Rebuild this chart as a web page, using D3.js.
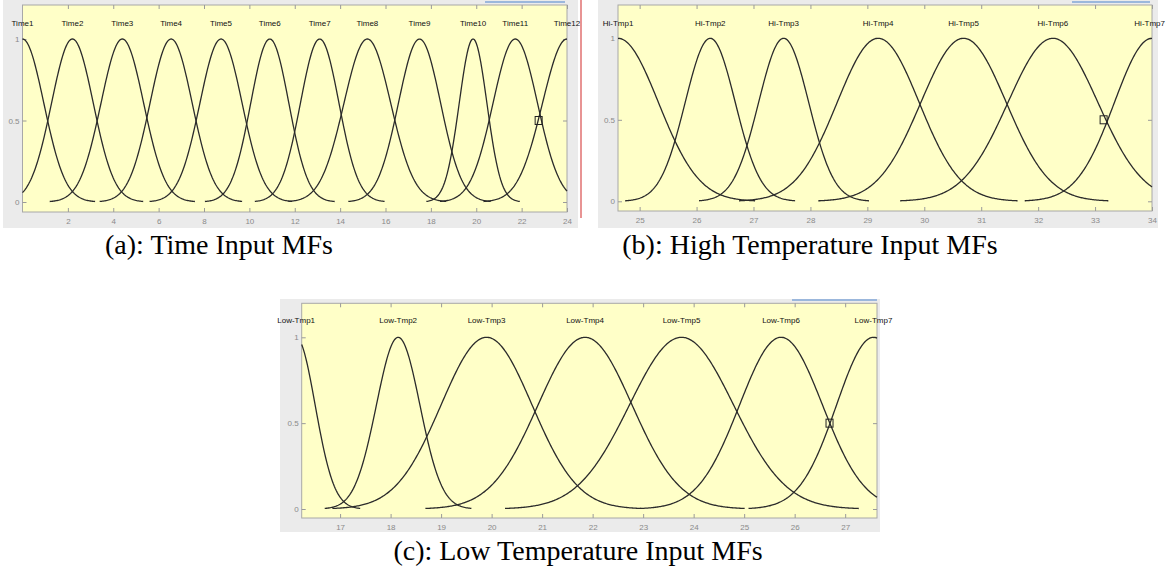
<!DOCTYPE html>
<html>
<head>
<meta charset="utf-8">
<script src="https://cdn.jsdelivr.net/npm/d3@7"></script>
<style>
  body { margin: 0; background: #fff; }
  svg { display: block; }
</style>
</head>
<body>
<div id="chart"></div>
<script>
// membership function parameters (gaussian: centre, sigma)
const timeLabels = ["Time1","Time2","Time3","Time4","Time5","Time6","Time7","Time8","Time9","Time10","Time11","Time12"]
const timeCenters = [0, 2.2, 4.4, 6.55, 8.75, 10.9, 13.1, 15.2, 17.5, 19.86, 21.72, 24]
const timeSigmas = [0.94, 0.92, 0.94, 0.93, 0.93, 0.84, 0.85, 1.03, 0.93, 0.61, 0.98, 1.08]
const timeTicks = [2, 4, 6, 8, 10, 12, 14, 16, 18, 20, 22, 24]
const timeMarker = [22.75, 0.5]

const hiLabels = ["Hi-Tmp1","Hi-Tmp2","Hi-Tmp3","Hi-Tmp4","Hi-Tmp5","Hi-Tmp6","Hi-Tmp7"]
const hiCenters = [24.62, 26.24, 27.53, 29.19, 30.69, 32.26, 34]
const hiSigmas = [0.71, 0.44, 0.44, 0.72, 0.75, 0.79, 0.66]
const hiTicks = [25, 26, 27, 28, 29, 30, 31, 32, 33, 34]
const hiMarker = [33.15, 0.5]

const lowLabels = ["Low-Tmp1","Low-Tmp2","Low-Tmp3","Low-Tmp4","Low-Tmp5","Low-Tmp6","Low-Tmp7"]
const lowCenters = [16.13, 18.15, 19.9, 21.85, 23.76, 25.73, 27.56]
const lowSigmas = [0.376, 0.43, 0.9, 0.93, 1.03, 0.82, 0.73]
const lowTicks = [17, 18, 19, 20, 21, 22, 23, 24, 25, 26, 27]
const lowMarker = [26.69, 0.5]

const yTicks = [0, 0.5, 1]

const WIDTH = 1167
const HEIGHT = 571

const svg = d3.select("#chart").append("svg")
  .attr("width", WIDTH)
  .attr("height", HEIGHT)

function gauss(v, c, s) {
  return Math.exp(-((v - c) * (v - c)) / (2 * s * s))
}

function drawPanel(p) {
  const g = svg.append("g")

  // grey figure background
  g.append("rect")
    .attr("x", p.frame[0]).attr("y", p.frame[1])
    .attr("width", p.frame[2] - p.frame[0]).attr("height", p.frame[3] - p.frame[1])
    .attr("fill", "#ebebeb")

  // little blue bar along the top (gui leftover)
  g.append("line")
    .attr("x1", p.blue[0]).attr("x2", p.blue[1])
    .attr("y1", p.blue[2]).attr("y2", p.blue[2])
    .attr("stroke", "#9bb7dc").attr("stroke-width", 2)

  const x = d3.scaleLinear().domain(p.domain).range([p.left, p.right])
  const y = d3.scaleLinear().domain([0, 1]).range([p.y0, p.y1])

  // yellow axes box
  g.append("rect")
    .attr("x", p.left).attr("y", p.top)
    .attr("width", p.right - p.left).attr("height", p.bottom - p.top)
    .attr("fill", "#ffffc8")
    .attr("stroke", "#a8a8a8")

  const axes = [
    g.append("g").attr("transform", `translate(0, ${p.bottom})`)
      .call(d3.axisBottom(x).tickValues(p.ticks).tickSizeInner(-4).tickSizeOuter(0).tickPadding(6)),
    g.append("g").attr("transform", `translate(0, ${p.top})`)
      .call(d3.axisTop(x).tickValues(p.ticks).tickSizeInner(-4).tickSizeOuter(0).tickFormat("")),
    g.append("g").attr("transform", `translate(${p.left}, 0)`)
      .call(d3.axisLeft(y).tickValues(yTicks).tickSizeInner(-4).tickSizeOuter(0).tickPadding(3).tickFormat(d => d)),
    g.append("g").attr("transform", `translate(${p.right}, 0)`)
      .call(d3.axisRight(y).tickValues(yTicks).tickSizeInner(-4).tickSizeOuter(0).tickFormat(""))
  ]
  axes.forEach(a => {
    a.select(".domain").remove()
    a.selectAll(".tick line").attr("stroke", "#9a9a9a")
    a.selectAll(".tick text")
      .attr("fill", "#8a8a8a")
      .style("font-family", "'Liberation Sans', Arial, sans-serif")
      .style("font-size", "8px")
  })

  // curves, drawn only where the mf is not ~0 (like the toolbox plot)
  const line = d3.line().x(d => x(d[0])).y(d => y(d[1]))
  const n = 600
  p.centers.forEach((c, i) => {
    const pts = d3.range(n + 1)
      .map(k => p.domain[0] + k * (p.domain[1] - p.domain[0]) / n)
      .map(v => [v, gauss(v, c, p.sigmas[i])])
      .filter(d => d[1] > 0.003)
    g.append("path")
      .attr("d", line(pts))
      .attr("fill", "none")
      .attr("stroke", "#2b2b2b")
      .attr("stroke-width", 1.3)
  })

  // mf names above the peaks, kept inside the picture
  g.selectAll(null)
    .data(p.labels)
    .enter()
    .append("text")
    .attr("x", (d, i) => x(p.centers[i]))
    .attr("y", p.labelY)
    .attr("text-anchor", "middle")
    .style("font-family", "'Liberation Sans', Arial, sans-serif")
    .style("font-size", "8px")
    .attr("fill", "#111")
    .text(d => d)
    .each(function () {
      const t = d3.select(this)
      const half = this.getComputedTextLength() / 2
      const cx = +t.attr("x")
      if (cx + half > WIDTH - 2) t.attr("x", WIDTH - 2 - half)
    })

  // selection marker
  g.append("rect")
    .attr("x", x(p.marker[0]) - 3.5).attr("y", y(p.marker[1]) - 4)
    .attr("width", 7).attr("height", 8)
    .attr("fill", "none").attr("stroke", "#222")

  // caption
  g.append("text")
    .attr("x", p.captionX).attr("y", p.captionY)
    .attr("text-anchor", "middle")
    .style("font-family", "'Liberation Serif', 'Times New Roman', serif")
    .style("font-size", "28px")
    .attr("fill", "#000")
    .text(p.caption)
}

drawPanel({
  frame: [3, 0, 578, 228], blue: [485, 565, 2],
  domain: [0, 24], left: 22.5, right: 567, top: 5, bottom: 212, y0: 202, y1: 39,
  ticks: timeTicks, centers: timeCenters, sigmas: timeSigmas, labels: timeLabels,
  labelY: 26, marker: timeMarker,
  caption: "(a): Time Input MFs", captionX: 219, captionY: 254
})

drawPanel({
  frame: [598, 0, 1158, 228], blue: [1072, 1150, 2],
  domain: [24.62, 34], left: 618, right: 1152, top: 5, bottom: 211, y0: 201.3, y1: 38.3,
  ticks: hiTicks, centers: hiCenters, sigmas: hiSigmas, labels: hiLabels,
  labelY: 26, marker: hiMarker,
  caption: "(b): High Temperature Input MFs", captionX: 810, captionY: 254
})

drawPanel({
  frame: [280, 299, 880, 532], blue: [792, 877, 300],
  domain: [16.24, 27.63], left: 301.7, right: 877, top: 303.3, bottom: 518, y0: 509, y1: 337.3,
  ticks: lowTicks, centers: lowCenters, sigmas: lowSigmas, labels: lowLabels,
  labelY: 323, marker: lowMarker,
  caption: "(c): Low Temperature Input MFs", captionX: 578, captionY: 560
})

// thin red edge right of panel (a)
svg.append("line")
  .attr("x1", 581).attr("x2", 581).attr("y1", 0).attr("y2", 218)
  .attr("stroke", "#e07070").attr("stroke-width", 1.5)
</script>
</body>
</html>
